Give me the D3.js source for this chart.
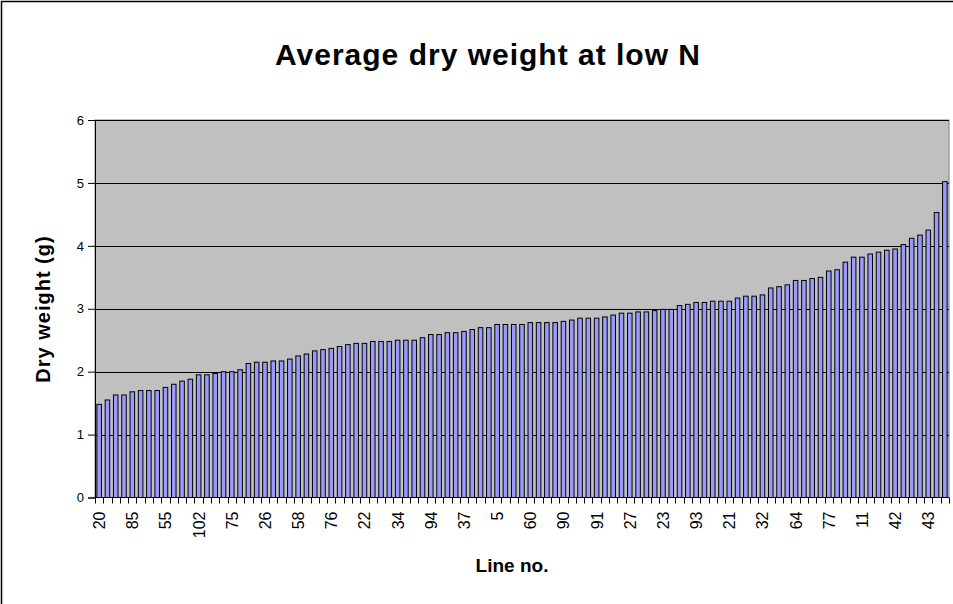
<!DOCTYPE html>
<html>
<head>
<meta charset="utf-8">
<title>Average dry weight at low N</title>
<script src="https://d3js.org/d3.v7.min.js"></script>
<style>
  body { margin: 0; background: #fff; }
  text { font-family: "Liberation Sans", Arial, sans-serif; }
</style>
</head>
<body>
<div id="chart"></div>
<script>

// average dry weight (g) per line, sorted ascending
var dryWeight = [1.48, 1.55, 1.63, 1.63, 1.68, 1.70, 1.70, 1.70, 1.75, 1.80,
  1.85, 1.88, 1.95, 1.95, 1.97, 2.00, 2.00, 2.03, 2.13, 2.15,
  2.15, 2.17, 2.17, 2.20, 2.25, 2.28, 2.33, 2.35, 2.37, 2.40,
  2.43, 2.45, 2.45, 2.48, 2.48, 2.48, 2.50, 2.50, 2.50, 2.54,
  2.59, 2.59, 2.62, 2.62, 2.64, 2.67, 2.70, 2.70, 2.75, 2.75,
  2.75, 2.75, 2.78, 2.78, 2.78, 2.78, 2.80, 2.82, 2.85, 2.85,
  2.85, 2.87, 2.90, 2.93, 2.93, 2.95, 2.95, 2.97, 2.99, 2.99,
  3.05, 3.07, 3.10, 3.10, 3.12, 3.12, 3.12, 3.17, 3.20, 3.20,
  3.22, 3.33, 3.35, 3.38, 3.45, 3.45, 3.48, 3.50, 3.60, 3.62,
  3.74, 3.82, 3.82, 3.87, 3.90, 3.93, 3.95, 4.02, 4.12, 4.17,
  4.25, 4.53, 5.02];

// only every 4th line number is printed on the axis
var lineLabels = ['20', '85', '55', '102', '75', '26', '58', '76', '22', '34', '94', '37', '5',
  '60', '90', '91', '27', '23', '93', '21', '32', '64', '77', '11', '42', '43'];
var labelEvery = 4;

var yTicks = [0, 1, 2, 3, 4, 5, 6];

var W = 953, H = 604;
var margin = {top: 120, right: 4, bottom: 106.5, left: 95};
var width = W - margin.left - margin.right,
    height = H - margin.top - margin.bottom;

var svg = d3.select("#chart")
  .append("svg")
    .attr("width", W)
    .attr("height", H);

// chart frame (runs off the right/bottom like the original)
svg.append("rect")
  .attr("x", 1.5).attr("y", 1.5)
  .attr("width", W + 10).attr("height", H + 10)
  .attr("fill", "#fff")
  .attr("stroke", "#000")
  .attr("stroke-width", 1.5);

var g = svg.append("g")
  .attr("transform", "translate(" + margin.left + "," + margin.top + ")");

var x = d3.scaleBand()
  .domain(d3.range(dryWeight.length))
  .range([0, width])
  .paddingInner(0.45)
  .paddingOuter(0.225);

var y = d3.scaleLinear()
  .domain([0, 6])
  .range([height, 0]);

// plot area
g.append("rect")
  .attr("width", width)
  .attr("height", height)
  .attr("fill", "#c0c0c0")
  .attr("stroke", "#808080");

// gridlines
g.selectAll(".grid")
  .data(yTicks.slice(1))
  .enter().append("line")
    .attr("x1", 0).attr("x2", width)
    .attr("y1", function(d) { return Math.round(y(d)) + 0.5; })
    .attr("y2", function(d) { return Math.round(y(d)) + 0.5; })
    .attr("stroke", "#000")
    .attr("stroke-width", 1);

// bars
g.selectAll(".bar")
  .data(dryWeight)
  .enter().append("rect")
    .attr("x", function(d, i) { return x(i); })
    .attr("y", function(d) { return y(d); })
    .attr("width", x.bandwidth())
    .attr("height", function(d) { return height - y(d); })
    .attr("fill", "#9999ff")
    .attr("stroke", "#000")
    .attr("stroke-width", 1);

// y axis
var yAxis = g.append("g")
  .call(d3.axisLeft(y).tickValues(yTicks).tickSize(7).tickPadding(4).tickFormat(d3.format("d")));
yAxis.select(".domain").attr("stroke", "#000");
yAxis.selectAll("text").attr("font-size", 13).attr("font-family", "Liberation Sans, Arial, sans-serif");

// x axis: baseline + a tick at every category boundary
var step = x.step();
var xAxis = g.append("g")
  .attr("transform", "translate(0," + height + ")");
xAxis.append("line")
  .attr("x1", 0).attr("x2", width)
  .attr("stroke", "#000");
xAxis.selectAll(".tick")
  .data(d3.range(dryWeight.length + 1))
  .enter().append("line")
    .attr("x1", function(i) { return Math.round(i * step) + 0.5; })
    .attr("x2", function(i) { return Math.round(i * step) + 0.5; })
    .attr("y1", 0).attr("y2", 6)
    .attr("stroke", "#000");

xAxis.selectAll(".lbl")
  .data(lineLabels)
  .enter().append("text")
    .attr("transform", function(d, k) {
      var cx = x(k * labelEvery) + x.bandwidth() / 2;
      return "translate(" + (cx + 6) + ",14) rotate(-90)";
    })
    .attr("text-anchor", "end")
    .attr("font-size", 16)
    .attr("fill", "#000")
    .text(function(d) { return d; });

// titles
svg.append("text")
  .attr("x", 488).attr("y", 65)
  .attr("text-anchor", "middle")
  .attr("font-size", 30)
  .attr("letter-spacing", 1)
  .attr("font-weight", "bold")
  .text("Average dry weight at low N");

svg.append("text")
  .attr("transform", "translate(50,309) rotate(-90)")
  .attr("text-anchor", "middle")
  .attr("font-size", 20)
  .attr("letter-spacing", 1)
  .attr("font-weight", "bold")
  .text("Dry weight (g)");

svg.append("text")
  .attr("x", 512).attr("y", 572)
  .attr("text-anchor", "middle")
  .attr("font-size", 19)
  .attr("font-weight", "bold")
  .text("Line no.");

</script>
</body>
</html>
